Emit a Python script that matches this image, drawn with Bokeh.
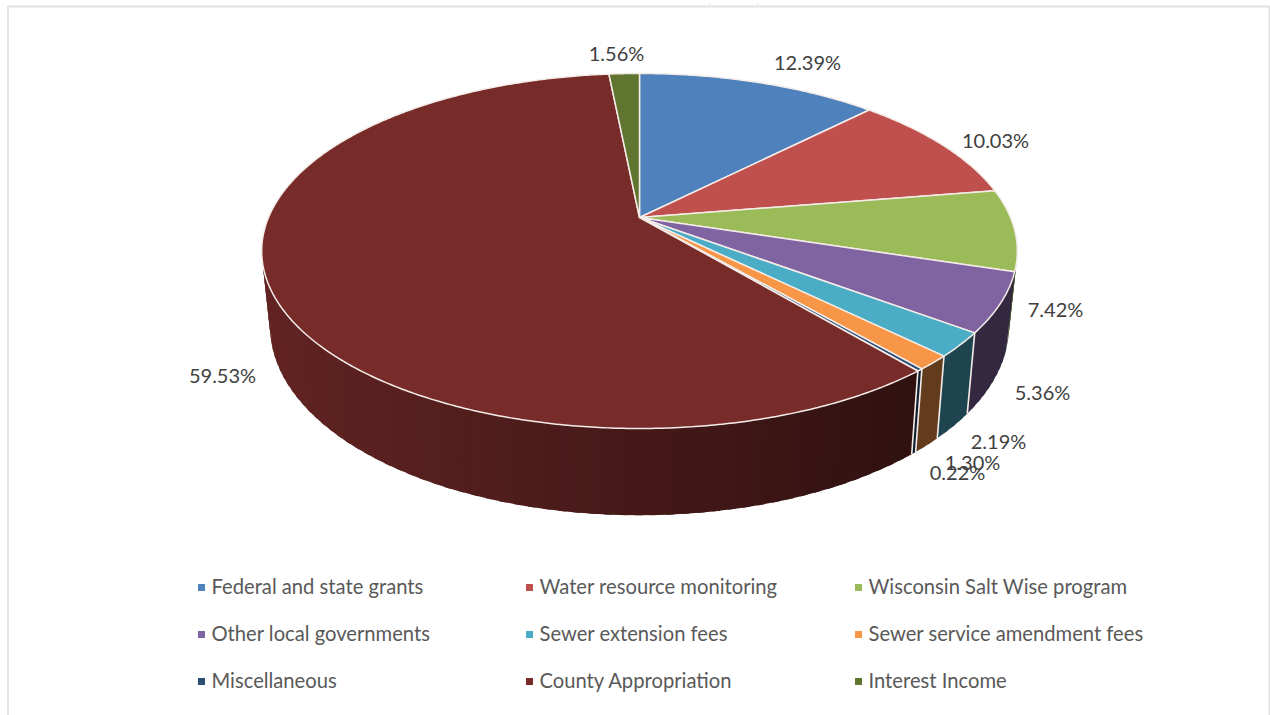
import numpy as np
from bokeh.core.properties import value
from bokeh.embed import file_html
from bokeh.models import ColumnDataSource, Range1d
from bokeh.plotting import figure
from bokeh.resources import INLINE

# Funding sources and their share of revenue, in percent
categories = ["Federal and state grants", "Water resource monitoring", "Wisconsin Salt Wise program",
              "Other local governments", "Sewer extension fees", "Sewer service amendment fees",
              "Miscellaneous", "County Appropriation", "Interest Income"]
shares = [12.39, 10.03, 7.42, 5.36, 2.19, 1.30, 0.22, 59.53, 1.56]
colors = ["#4f81bd", "#c0504d", "#9bbb59", "#8064a2", "#4bacc6", "#f79646", "#2c4d75", "#772c2a", "#5f7530"]

# Centres of the percentage labels on the page, in slice order
label_x = [807, 995, 1055, 1042, 998, 972, 957, 222, 616]
label_y = [61, 139, 308, 391, 440, 461, 471, 374, 52]

# Legend grid
legend_x = [211, 539, 868]
legend_y = [585, 632, 679]
marker_y = [587, 634, 681]

WIDTH, HEIGHT = 1270, 715
FONT = "Lato"
LABEL_COLOR = "#404040"
LEGEND_COLOR = "#595959"
EDGE_COLOR = "#f4ece8"

# Perspective disc: top and bottom rims share a centre line and a vanishing factor
CX, KEEP = 639.0, 0.1887
TOP = dict(cy=217.0, ax=371.0, ay=171.2)
BOTTOM = dict(cy=290.5, ax=362.8, ay=182.0)


def rim(theta_deg, plane):
    """Project a clockwise-from-north angle onto one rim of the disc."""
    t = np.radians(np.asarray(theta_deg, dtype=float))
    u, v = np.sin(t), -np.cos(t)
    den = 1 - KEEP * v
    return CX + plane["ax"] * u / den, plane["cy"] + plane["ay"] * v / den


def shade(hex_color, x):
    """Darken a side-wall colour from left to right across the disc."""
    f = np.clip(0.82 - 0.00065 * (x - 270), 0.40, 0.85)
    rgb = [int(hex_color[i:i + 2], 16) for i in (1, 3, 5)]
    return "#%02x%02x%02x" % tuple(int(c * f) for c in rgb)


edges = np.concatenate([[0], np.cumsum(shares)]) * 3.6

p = figure(width=WIDTH, height=HEIGHT, output_backend="svg", toolbar_location=None,
           x_range=Range1d(0, WIDTH), y_range=Range1d(HEIGHT, 0),
           min_border=0, outline_line_color=None, background_fill_color="white")
p.axis.visible = False
p.grid.visible = False

# Chart frame, running off the bottom of the page
p.line([7.5, 7.5, 1269, 1269], [HEIGHT, 6, 6, HEIGHT], line_color="#e2e2e2", line_width=2)

# Small commas of the title line above the frame
p.text([709, 757], [0, 0], text=[",", ","], text_font=value(FONT), text_font_size="4px",
       text_color=LABEL_COLOR, text_align="center", text_baseline="top")

# Side wall: bands painted from the far side to the near side, each overlapping the next
walls = []
for start, stop, col in zip(edges[:-1], edges[1:], colors):
    lo, hi = max(start, 90.0), min(stop, 270.0)
    if hi <= lo:
        continue
    steps = np.linspace(lo, hi, max(2, int((hi - lo) / 2.0) + 2))
    for a, b in zip(steps[:-1], steps[1:]):
        mid = (a + b) / 2
        x1, y1 = rim([a, b], TOP)
        x2, y2 = rim([b, a], BOTTOM)
        # Grow each band slightly inside its own slice so no seam shows through
        a0, b0 = max(lo, a - 0.5), min(hi, b + 0.5)
        gx1, gy1 = rim([a0, b0], TOP)
        gx2, gy2 = rim([b0, a0], BOTTOM)
        walls.append((-np.cos(np.radians(mid)), list(gx1) + list(gx2), list(gy1) + list(gy2),
                       shade(col, (x1.mean() + x2.mean()) / 2)))
walls.sort(key=lambda s: s[0])
p.patches([s[1] for s in walls], [s[2] for s in walls], fill_color=[s[3] for s in walls],
          line_color=None)

# Pale seams between neighbouring slices on the wall
for e in edges[1:-1]:
    if 120 < e < 240:
        x1, y1 = rim([e], TOP)
        x2, y2 = rim([e], BOTTOM)
        p.line([x1[0], x2[0]], [y1[0], y2[0]], line_color=EDGE_COLOR, line_width=1.6)

# Top face
xs, ys = [], []
for start, stop in zip(edges[:-1], edges[1:]):
    ang = np.linspace(start, stop, max(3, int(stop - start) * 2 + 2))
    x, y = rim(ang, TOP)
    xs.append([CX] + list(x))
    ys.append([TOP["cy"]] + list(y))
p.patches(xs, ys, fill_color=colors, line_color=EDGE_COLOR, line_width=1.5, line_join="round")

# Percentage labels
labels = ColumnDataSource(dict(x=label_x, y=label_y, text=["%.2f%%" % s for s in shares]))
p.text("x", "y", text="text", source=labels, text_font=value(FONT), text_font_size="20px",
       text_color=LABEL_COLOR, text_align="center", text_baseline="middle")

# Legend, three columns by three rows
lx = [legend_x[i % 3] for i in range(len(categories))]
ly = [legend_y[i // 3] for i in range(len(categories))]
my = [marker_y[i // 3] for i in range(len(categories))]
p.scatter([x - 10 for x in lx], my, marker="square", size=7, fill_color=colors, line_color=None)
p.text(lx, ly, text=categories, text_font=value(FONT), text_font_size="20.2px",
       text_color=LEGEND_COLOR, text_align="left", text_baseline="middle")

open("out.html", "w").write(file_html(p, INLINE))
